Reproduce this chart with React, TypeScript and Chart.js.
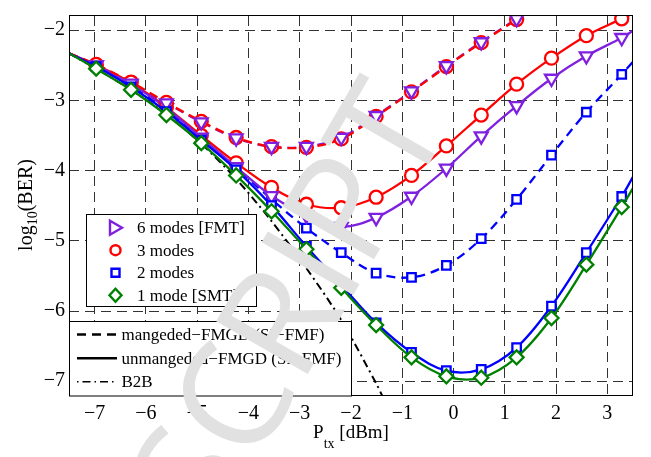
import { useEffect, useRef } from 'react';
import { Chart, registerables } from 'chart.js';

Chart.register(...registerables);

// Launch power sweep (dBm) at which BER was measured
const txPower = [-6.97, -6.29, -5.6, -4.92, -4.24, -3.55, -2.87, -2.19, -1.51, -0.82, -0.14, 0.54, 1.23, 1.91, 2.59, 3.28];

// Curve end points at the plot borders (fitted curves run edge to edge)
const edgeLeftPower = -7.5;
const edgeRightPower = 3.5;
const berAtLeftEdge = -2.33;

// log10(BER), managed-DMGD link (dashed)
const ber6ModesManaged = [-2.5, -2.76, -3.04, -3.31, -3.54, -3.66, -3.66, -3.53, -3.22, -2.87, -2.51, -2.17, -1.84, -1.5];
const ber3ModesManaged = [-2.49, -2.74, -3.03, -3.3, -3.53, -3.66, -3.67, -3.55, -3.23, -2.88, -2.52, -2.18, -1.85, -1.52];
const ber2ModesManaged = [-2.52, -2.8, -3.14, -3.54, -3.96, -4.41, -4.82, -5.17, -5.46, -5.52, -5.35, -4.97, -4.41, -3.78, -3.17, -2.63];
const ber2ModesManagedRight = -2.45;

// log10(BER), unmanaged-DMGD link (solid)
const ber6ModesUnmanaged = [-2.5, -2.77, -3.11, -3.53, -3.95, -4.36, -4.64, -4.8, -4.67, -4.37, -3.97, -3.51, -3.08, -2.69, -2.37, -2.11];
const ber6ModesUnmanagedRight = -2.01;
const ber3ModesUnmanaged = [-2.5, -2.75, -3.1, -3.5, -3.89, -4.24, -4.48, -4.53, -4.38, -4.07, -3.65, -3.21, -2.77, -2.4, -2.08, -1.84];
const ber3ModesUnmanagedRight = -1.76;
const ber2ModesUnmanaged = [-2.52, -2.81, -3.16, -3.57, -3.99, -4.5, -5.08, -5.63, -6.17, -6.59, -6.85, -6.83, -6.52, -5.93, -5.17, -4.37];
const ber2ModesUnmanagedRight = -4.09;
const ber1ModeUnmanaged = [-2.55, -2.85, -3.21, -3.61, -4.07, -4.58, -5.12, -5.67, -6.2, -6.66, -6.93, -6.95, -6.66, -6.1, -5.34, -4.52];
const ber1ModeUnmanagedRight = -4.25;

// Back-to-back reference
const b2bPower = [-7.5, -6.97, -6.29, -5.6, -4.92, -4.24, -3.55, -2.87, -2.19, -1.51, -1.33];
const b2bBer = [-2.33, -2.55, -2.85, -3.2, -3.62, -4.12, -4.72, -5.39, -6.13, -7.03, -7.3];

const xRange = [-7.5, 3.5];
const yRange = [-7.21, -1.8];
const xTickValues = [-7, -6, -5, -4, -3, -2, -1, 0, 1, 2, 3];
const yTickValues = [-7, -6, -5, -4, -3, -2];

const modeLabels = ['6 modes [FMT]', '3 modes', '2 modes', '1 mode [SMT]'];
const lineLabels = ['mangeded\u2212FMGD (SI\u2212FMF)', 'unmangeded\u2212FMGD (SI\u2212FMF)', 'B2B'];
const watermarkText = 'MANUSCRIPT';

const PURPLE = '#7f20e0';
const RED = '#ff0000';
const BLUE = '#0000ff';
const GREEN = '#008000';
const SERIF = '"Liberation Serif", "Times New Roman", serif';

type Pt = { x: number; y: number; edge?: boolean };

function curve(values: number[], left: number | null, right: number | null): Pt[] {
  const pts: Pt[] = [];
  if (left !== null) pts.push({ x: edgeLeftPower, y: left, edge: true });
  values.forEach((y, i) => pts.push({ x: txPower[i], y }));
  if (right !== null) pts.push({ x: edgeRightPower, y: right, edge: true });
  return pts;
}

function markerSet(color: string, style: string, radius: number, rotation = 0) {
  return {
    borderColor: color,
    pointBorderColor: color,
    pointBackgroundColor: '#ffffff',
    pointStyle: style,
    pointRotation: rotation,
    pointRadius: (c: any) => (c.raw && c.raw.edge ? 0 : radius),
    pointBorderWidth: 2.3,
    borderWidth: 2.3,
    tension: 0.35,
  };
}

function minusLabel(v: number) {
  return v < 0 ? '\u2212' + Math.abs(v) : String(v);
}

function fixedTicks(values: number[]) {
  return (scale: any) => {
    scale.ticks = values.map((value) => ({ value }));
  };
}

function drawMarker(ctx: CanvasRenderingContext2D, kind: string, x: number, y: number, color: string) {
  ctx.save();
  ctx.strokeStyle = color;
  ctx.lineWidth = 2.4;
  ctx.setLineDash([]);
  ctx.beginPath();
  if (kind === 'tri') {
    ctx.moveTo(x - 5.5, y - 7);
    ctx.lineTo(x + 6.5, y);
    ctx.lineTo(x - 5.5, y + 7);
    ctx.closePath();
  } else if (kind === 'circle') {
    ctx.arc(x, y, 5, 0, Math.PI * 2);
  } else if (kind === 'square') {
    ctx.rect(x - 4, y - 4, 8, 8);
  } else {
    ctx.moveTo(x, y - 6.5);
    ctx.lineTo(x + 6, y);
    ctx.lineTo(x, y + 6.5);
    ctx.lineTo(x - 6, y);
    ctx.closePath();
  }
  ctx.stroke();
  ctx.restore();
}

const overlayPlugin = {
  id: 'overlay',
  afterDraw(chart: any) {
    const { ctx, chartArea: a } = chart;
    ctx.save();

    // axes frame
    ctx.strokeStyle = '#000';
    ctx.lineWidth = 1;
    ctx.setLineDash([]);
    ctx.strokeRect(Math.round(a.left) + 0.5, Math.round(a.top) - 0.5, Math.round(a.right - a.left) - 1, Math.round(a.bottom - a.top));

    // marker legend
    const l1 = { x: 86.5, y: 214.5, w: 170, h: 92 };
    ctx.fillStyle = '#fff';
    ctx.fillRect(l1.x, l1.y, l1.w, l1.h);
    ctx.strokeRect(l1.x, l1.y, l1.w, l1.h);
    const kinds = ['tri', 'circle', 'square', 'diamond'];
    const colors = [PURPLE, RED, BLUE, GREEN];
    const rows1 = [227.7, 250.2, 272.7, 295.2];
    ctx.font = '17px ' + SERIF;
    ctx.textBaseline = 'middle';
    ctx.textAlign = 'left';
    modeLabels.forEach((label, i) => {
      drawMarker(ctx, kinds[i], 115.5, rows1[i], colors[i]);
      ctx.fillStyle = '#000';
      ctx.fillText(label, 137, rows1[i] + 1);
    });

    // line-style legend
    const l2 = { x: Math.round(a.left) + 0.5, y: 321.5, w: 282, h: Math.round(a.bottom) - 321.5 };
    ctx.fillStyle = '#fff';
    ctx.fillRect(l2.x, l2.y, l2.w, l2.h);
    ctx.strokeStyle = '#000';
    ctx.lineWidth = 1;
    ctx.strokeRect(l2.x, l2.y, l2.w, l2.h);
    const rows2 = [334.5, 358.3, 381.7];
    const dashes = [[9, 6], [], [1.5, 4, 8, 4]];
    const widths = [2.4, 2.4, 1.6];
    lineLabels.forEach((label, i) => {
      ctx.save();
      ctx.strokeStyle = '#000';
      ctx.lineWidth = widths[i];
      ctx.setLineDash(dashes[i]);
      ctx.beginPath();
      ctx.moveTo(77, rows2[i]);
      ctx.lineTo(117, rows2[i]);
      ctx.stroke();
      ctx.restore();
      ctx.fillStyle = '#000';
      ctx.fillText(label, 121.5, rows2[i] + 1);
    });

    // y-axis title: log10(BER)
    ctx.save();
    ctx.translate(32, 205);
    ctx.rotate(-Math.PI / 2);
    ctx.textBaseline = 'alphabetic';
    const big = '20px ' + SERIF;
    const small = '14px ' + SERIF;
    ctx.font = big;
    const wLog = ctx.measureText('log').width;
    const wBer = ctx.measureText('(BER)').width;
    ctx.font = small;
    const wSub = ctx.measureText('10').width;
    let sx = -(wLog + wSub + wBer) / 2;
    ctx.fillStyle = '#000';
    ctx.font = big;
    ctx.fillText('log', sx, 0);
    sx += wLog;
    ctx.font = small;
    ctx.fillText('10', sx, 5);
    sx += wSub;
    ctx.font = big;
    ctx.fillText('(BER)', sx, 0);
    ctx.restore();

    // x-axis title: P_tx [dBm]
    ctx.save();
    ctx.textBaseline = 'alphabetic';
    ctx.fillStyle = '#000';
    const xbig = '19px ' + SERIF;
    const xsmall = '14px ' + SERIF;
    ctx.font = xbig;
    const wP = ctx.measureText('P').width;
    const wUnit = ctx.measureText(' [dBm]').width;
    ctx.font = xsmall;
    const wTx = ctx.measureText('tx').width;
    let tx = (a.left + a.right) / 2 - (wP + wTx + wUnit) / 2;
    ctx.font = xbig;
    ctx.fillText('P', tx, 438);
    tx += wP;
    ctx.font = xsmall;
    ctx.fillText('tx', tx, 448);
    tx += wTx;
    ctx.font = xbig;
    ctx.fillText(' [dBm]', tx, 438);
    ctx.restore();

    // diagonal watermark
    ctx.save();
    ctx.translate(452, 124);
    ctx.rotate((-60 * Math.PI) / 180);
    ctx.font = '400 148px "Open Sans", "DejaVu Sans", sans-serif';
    ctx.textAlign = 'right';
    ctx.textBaseline = 'alphabetic';
    ctx.fillStyle = '#e1e1e1';
    ctx.fillText(watermarkText, 0, 0);
    ctx.restore();

    ctx.restore();
  },
};

export default function App() {
  const canvasRef = useRef<HTMLCanvasElement | null>(null);

  useEffect(() => {
    const canvas = canvasRef.current;
    if (!canvas) return;

    const managed6 = curve(ber6ModesManaged, berAtLeftEdge, null);
    const datasets: any[] = [
      { label: '1 mode unmanaged', data: curve(ber1ModeUnmanaged, berAtLeftEdge, ber1ModeUnmanagedRight), ...markerSet(GREEN, 'rectRot', 7) },
      { label: '2 modes unmanaged', data: curve(ber2ModesUnmanaged, berAtLeftEdge, ber2ModesUnmanagedRight), ...markerSet(BLUE, 'rect', 6) },
      // 6-mode managed markers sit above the red dashed trace, its line below it
      { label: '6 modes managed', data: managed6, ...markerSet(PURPLE, 'triangle', 7.5, 180), showLine: false },
      { label: '3 modes managed', data: curve(ber3ModesManaged, berAtLeftEdge, null), ...markerSet(RED, 'circle', 6.5), borderDash: [9, 6] },
      { label: '6 modes managed line', data: managed6, ...markerSet(PURPLE, 'triangle', 0), borderDash: [9, 6], pointRadius: 0 },
      { label: '6 modes unmanaged', data: curve(ber6ModesUnmanaged, berAtLeftEdge, ber6ModesUnmanagedRight), ...markerSet(PURPLE, 'triangle', 7.5, 180) },
      { label: '3 modes unmanaged', data: curve(ber3ModesUnmanaged, berAtLeftEdge, ber3ModesUnmanagedRight), ...markerSet(RED, 'circle', 6.5) },
      { label: '2 modes managed', data: curve(ber2ModesManaged, berAtLeftEdge, ber2ModesManagedRight), ...markerSet(BLUE, 'rect', 6), borderDash: [9, 6] },
      {
        label: 'B2B',
        data: b2bPower.map((x, i) => ({ x, y: b2bBer[i] })),
        borderColor: '#000',
        borderWidth: 2,
        borderDash: [8, 4, 2, 4],
        pointRadius: 0,
        tension: 0.3,
      },
    ];

    const chart = new Chart(canvas, {
      type: 'line',
      data: { datasets },
      options: {
        animation: false,
        responsive: false,
        devicePixelRatio: 1,
        layout: { padding: { top: 1, right: 18, left: 0, bottom: 0 } },
        plugins: { legend: { display: false }, tooltip: { enabled: false } },
        scales: {
          x: {
            type: 'linear',
            min: xRange[0],
            max: xRange[1],
            afterBuildTicks: fixedTicks(xTickValues),
            afterFit: (s: any) => { s.height = 61; },
            border: { display: false, dash: [10, 6] },
            grid: { color: '#333', lineWidth: 1, drawTicks: false },
            ticks: {
              padding: 6,
              color: '#000',
              font: { family: SERIF, size: 20 },
              callback: (v: any) => minusLabel(Number(v)),
              maxRotation: 0,
              autoSkip: false,
            },
          },
          y: {
            type: 'linear',
            min: yRange[0],
            max: yRange[1],
            afterBuildTicks: fixedTicks(yTickValues),
            afterFit: (s: any) => { s.width = 69; },
            border: { display: false, dash: [10, 6] },
            grid: { color: '#333', lineWidth: 1, drawTicks: false },
            ticks: {
              padding: 4,
              color: '#000',
              font: { family: SERIF, size: 20 },
              callback: (v: any) => minusLabel(Number(v)),
              autoSkip: false,
            },
          },
        },
      },
      plugins: [overlayPlugin],
    });

    return () => chart.destroy();
  }, []);

  return (
    <div style={{ position: 'fixed', left: 0, top: 0, width: 651, height: 457, background: '#fff' }}>
      <canvas ref={canvasRef} width={651} height={457} style={{ display: 'block' }} />
    </div>
  );
}
